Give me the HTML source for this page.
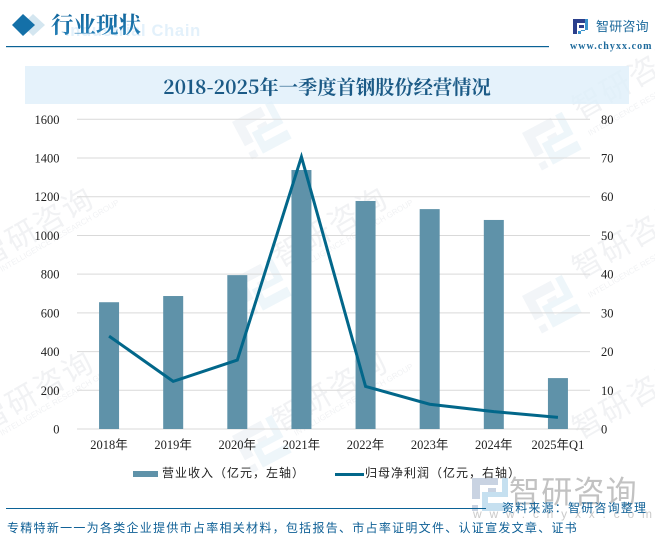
<!DOCTYPE html>
<html lang="zh">
<head>
<meta charset="utf-8">
<title>2018-2025年一季度首钢股份经营情况</title>
<style>
html,body{margin:0;padding:0;background:#fff}
#page{position:relative;width:655px;height:541px;overflow:hidden;background:#fff;font-family:"Liberation Sans","WenQuanYi Zen Hei","Noto Sans CJK SC",sans-serif}
svg{position:absolute;left:0;top:0}
.abs{position:absolute;white-space:nowrap}
</style>
</head>
<body>
<div id="page">
<svg id="wm" width="655" height="541">
  <defs>
    <g id="lg">
      <path d="M0 0H26V8H8V22H0Z M16 12H24V17H16Z M0 28H6V34H0Z" fill="#dfe6ee"/>
      <path d="M30 0H36V20H16V26H36V34H10V15H30Z" fill="#d7e9f4"/>
    </g>
  </defs>
  <g opacity=".42">
    <use href="#lg" transform="translate(232,122) rotate(-28) scale(1.25)"/>
    <use href="#lg" transform="translate(232,279) rotate(-28) scale(1.25)"/>
    <use href="#lg" transform="translate(232,436) rotate(-28) scale(1.25)"/>
    <use href="#lg" transform="translate(522,133) rotate(-28) scale(1.25)"/>
    <use href="#lg" transform="translate(522,296) rotate(-28) scale(1.25)"/>
  </g>
  <g fill="#f1f2f4" font-family="'Liberation Sans','Noto Sans CJK SC',sans-serif">
    <text transform="translate(-14,268) rotate(-30)" font-size="30" letter-spacing="2">智研咨询</text>
    <text transform="translate(-14,432) rotate(-30)" font-size="30" letter-spacing="2">智研咨询</text>
    <text transform="translate(280,268) rotate(-30)" font-size="30" letter-spacing="2">智研咨询</text>
    <text transform="translate(280,432) rotate(-30)" font-size="30" letter-spacing="2">智研咨询</text>
    <text transform="translate(580,280) rotate(-30)" font-size="30" letter-spacing="2">智研咨询</text>
    <text transform="translate(580,120) rotate(-30)" font-size="30" letter-spacing="2">智研咨询</text>
    <text transform="translate(580,440) rotate(-30)" font-size="30" letter-spacing="2">智研咨询</text>
    <text transform="translate(2,272) rotate(-30)" font-size="8">INTELLIGENCE RESEARCH GROUP</text>
    <text transform="translate(2,436) rotate(-30)" font-size="8">INTELLIGENCE RESEARCH GROUP</text>
    <text transform="translate(296,272) rotate(-30)" font-size="8">INTELLIGENCE RESEARCH GROUP</text>
    <text transform="translate(296,436) rotate(-30)" font-size="8">INTELLIGENCE RESEARCH GROUP</text>
    <text transform="translate(590,298) rotate(-30)" font-size="8">INTELLIGENCE RESEARCH GROUP</text>
    <text transform="translate(590,136) rotate(-30)" font-size="8">INTELLIGENCE RESEARCH GROUP</text>
  </g>
  <text x="65" y="36" font-family="'Liberation Sans',sans-serif" font-size="16.5" font-weight="bold" fill="#e3f1fb" letter-spacing=".7">Industrial Chain</text>
  <g>
    <path d="M472 478H498V485H480V499H472Z M488 488H496V493H488Z M472 505H478V511H472Z" fill="#c9d3e2"/>
    <path d="M502 478H508V497H488V503H508V511H482V492H502Z" fill="#c6e0f0"/>
    <text x="509" y="503" font-size="31" fill="#c2c2c2" letter-spacing="1.2">智研咨询</text>
    <text x="473" y="518" font-size="12" fill="#cacaca" letter-spacing="7.8">www.chyxx.com</text>
  </g>
</svg>

<svg width="655" height="60">
  <defs>
    <linearGradient id="hg" x1="0" y1="0" x2="0" y2="1"><stop offset="0" stop-color="#0a5f96"/><stop offset="1" stop-color="#2b86bd"/></linearGradient>
  </defs>
  <polygon points="33,14 45,25 33,36 22,25" fill="#d4e6f0"/>
  <polygon points="23,14 35,25 23,36 12,25" fill="#1470a8"/>
  <text x="51" y="33" font-family="'Noto Serif CJK SC',serif" font-weight="700" font-size="22.5" fill="url(#hg)">行业现状</text>
  <rect x="6" y="46" width="543" height="1.2" fill="#0b6296"/>
  <g>
    <path d="M573 19H585V23H577V34H573Z M579 25H584V28H579Z" fill="#2b3f8c"/>
    <path d="M588 19V30H581V34H588H587V34H578V31H585V19Z" fill="#3a93cc"/>
  </g>
  <text x="596" y="31" font-size="13" fill="#1d6a9c" letter-spacing=".2">智研咨询</text>
  <text x="570" y="49" font-family="'Liberation Serif',serif" font-weight="700" font-size="10" fill="#1d6a9c" letter-spacing="1.05">www.chyxx.com</text>
</svg>

<div class="abs" style="left:25px;top:66px;width:604px;height:38px;background:rgba(222,239,250,.8)"></div>
<div class="abs" style="left:25px;top:66px;width:604px;height:38px;text-align:center;font:700 19.3px/41px 'Noto Serif CJK SC',serif;color:#1b5a86">2018-2025年一季度首钢股份经营情况</div>

<svg id="chart" width="655" height="541"></svg>

<div class="abs" style="left:133px;top:471px;width:25px;height:6px;background:#5f92a9"></div>
<div class="abs" style="left:162px;top:465px;font-size:12px;line-height:17px;letter-spacing:1px;color:#222">营业收入&#xFF08;亿元&#xFF0C;左轴&#xFF09;</div>
<div class="abs" style="left:335px;top:473px;width:29px;height:3px;background:#02678a"></div>
<div class="abs" style="left:365px;top:465px;font-size:12px;line-height:17px;letter-spacing:1px;color:#222">归母净利润&#xFF08;亿元&#xFF0C;右轴&#xFF09;</div>

<div class="abs" style="left:6px;top:508px;width:480px;height:1.2px;background:#0b6296"></div>
<div class="abs" style="left:502px;top:500px;font-size:12px;line-height:17px;letter-spacing:1.2px;color:#0f6096">资料来源&#xFF1A;智研咨询整理</div>
<div class="abs" style="left:7px;top:520px;font-size:12px;line-height:17px;letter-spacing:1.28px;color:#0f6096">专精特新一一为各类企业提供市占率相关材料&#xFF0C;包括报告&#x3001;市占率证明文件&#x3001;认证宣发文章&#x3001;证书</div>
</div>

<script>
const categories = ['2018年','2019年','2020年','2021年','2022年','2023年','2024年','2025年Q1'];
const revenueValues = [655,687,795,1338,1178,1136,1080,263];
const profitValues = [24,12.3,17.8,70.3,11,6.4,4.5,3];
const leftTicks = [0,200,400,600,800,1000,1200,1400,1600];
const rightTicks = [0,10,20,30,40,50,60,70,80];

const NS = 'http://www.w3.org/2000/svg';
const svg = document.getElementById('chart');
const plot = {left:77, right:590, top:119.3, bottom:429};
const leftMax = 1600, rightMax = 80;
const xBand = i => plot.left + (i + 0.5) * (plot.right - plot.left) / categories.length;
const yLeft = v => plot.bottom - v / leftMax * (plot.bottom - plot.top);
const yRight = v => plot.bottom - v / rightMax * (plot.bottom - plot.top);
function make(tag, attrs, text){
  const el = document.createElementNS(NS, tag);
  for (const k in attrs) el.setAttribute(k, attrs[k]);
  if (text !== undefined) el.textContent = text;
  svg.appendChild(el);
  return el;
}
const labelFont = "'Liberation Serif','WenQuanYi Zen Hei','Noto Sans CJK SC',serif";

leftTicks.forEach(t => {
  const y = yLeft(t);
  const line = make('line', {x1:plot.left, x2:plot.right, y1:y, y2:y, stroke:'#d9d9d9', 'stroke-width':1});
  
  
  const lab = make('text', {x:59.5, y:y+4.5, 'text-anchor':'end', 'font-size':12.5, 'font-family':labelFont, fill:'#222'}, String(t));
  
  
});
rightTicks.forEach(t => {
  const lab = make('text', {x:601, y:yRight(t)+4.5, 'font-size':12.5, 'font-family':labelFont, fill:'#222'}, String(t));
  
  
});
categories.forEach((c, i) => {
  const lab = make('text', {x:xBand(i), y:449, 'text-anchor':'middle', 'font-size':12.5, 'font-family':labelFont, fill:'#222'}, c);
  
  
});
revenueValues.forEach((v, i) => {
  const y = yLeft(v);
  const bar = make('rect', {x:xBand(i)-10, y:y, width:20, height:plot.bottom-y, fill:'#5f92a9'});
  
  
});
const pts = profitValues.map((v, i) => xBand(i) + ',' + yRight(v)).join(' ');
const profitLine = make('polyline', {points:pts, fill:'none', stroke:'#02678a', 'stroke-width':3, 'stroke-linejoin':'miter'});


</script>
</body>
</html>
